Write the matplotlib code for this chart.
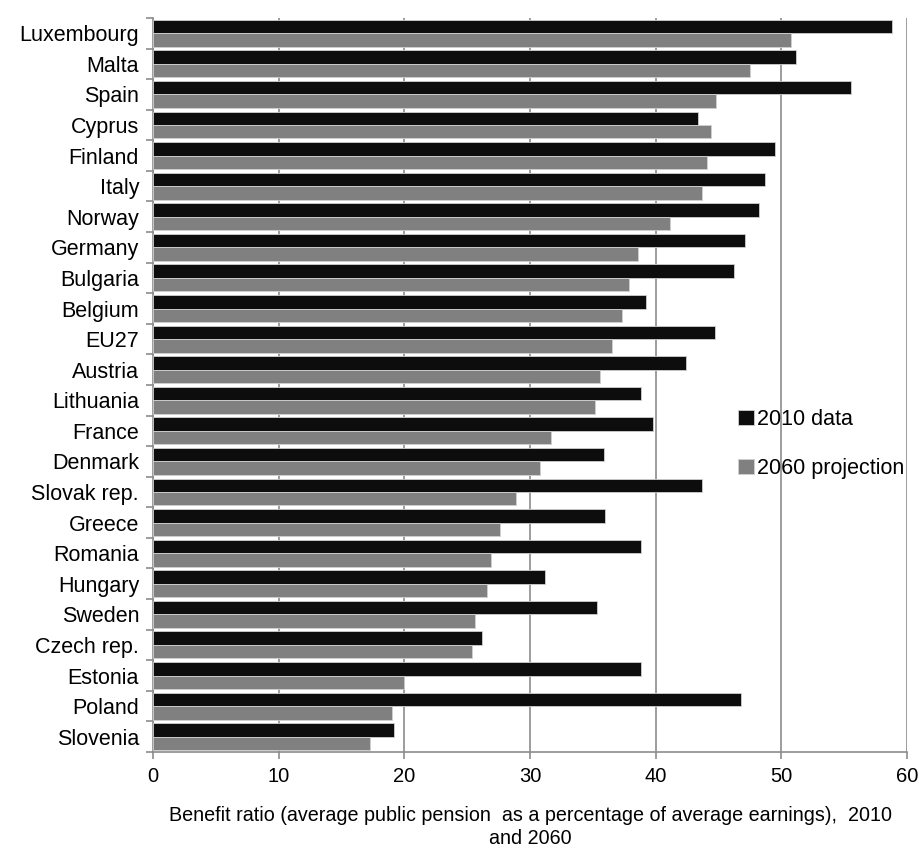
import matplotlib
matplotlib.use("Agg")
import matplotlib.pyplot as plt
import numpy as np

countries = ["Luxembourg", "Malta", "Spain", "Cyprus", "Finland", "Italy", "Norway",
             "Germany", "Bulgaria", "Belgium", "EU27", "Austria", "Lithuania", "France",
             "Denmark", "Slovak rep.", "Greece", "Romania", "Hungary", "Sweden",
             "Czech rep.", "Estonia", "Poland", "Slovenia"]
data_2010 = [58.8, 51.2, 55.5, 43.4, 49.5, 48.7, 48.2, 47.1, 46.2, 39.2, 44.7, 42.4,
             38.8, 39.8, 35.9, 43.7, 36.0, 38.8, 31.2, 35.3, 26.2, 38.8, 46.8, 19.2]
proj_2060 = [50.8, 47.5, 44.8, 44.4, 44.1, 43.7, 41.1, 38.6, 37.9, 37.3, 36.5, 35.6,
             35.2, 31.7, 30.8, 28.9, 27.6, 26.9, 26.6, 25.6, 25.4, 20.0, 19.0, 17.3]
x_ticks = [0, 10, 20, 30, 40, 50, 60]

plt.rcParams["font.family"] = ["Liberation Sans", "DejaVu Sans"]

fig = plt.figure(figsize=(9.19, 8.49), dpi=100)
ax = fig.add_axes([0.1665, 0.1143, 0.8205, 0.8645])

n = len(countries)
y = np.arange(n)
h = 0.44
ax.barh(y - h / 2, data_2010, height=h, color="#0d0d0d", edgecolor="#d0d0d0",
        linewidth=0.6, label="2010 data", zorder=3)
ax.barh(y + h / 2, proj_2060, height=h, color="#808080", edgecolor="#d0d0d0",
        linewidth=0.6, label="2060 projection", zorder=3)

ax.set_ylim(n - 0.5, -0.5)
ax.set_xlim(0, 60)

ax.set_yticks(y)
ax.set_yticklabels(countries, fontsize=15.5)
ax.set_yticks(np.arange(-0.5, n, 1.0), minor=True)
ax.tick_params(axis="y", which="major", length=0, pad=10)
ax.tick_params(axis="y", which="minor", length=5, width=1.2, color="#8c8c8c")

ax.set_xticks(x_ticks)
ax.set_xticklabels([str(v) for v in x_ticks], fontsize=14.5)
ax.tick_params(axis="x", which="major", length=5, width=1.2, color="#8c8c8c", pad=6)

for spine in ["top", "right"]:
    ax.spines[spine].set_visible(False)
for spine in ["left", "bottom"]:
    ax.spines[spine].set_color("#8c8c8c")
    ax.spines[spine].set_linewidth(1.2)

ax.grid(axis="x", color="#8c8c8c", linewidth=1.2, zorder=0)
ax.set_axisbelow(True)

ax.set_xlabel("Benefit ratio (average public pension  as a percentage of average earnings),  2010\nand 2060",
              fontsize=14.2, labelpad=14, linespacing=1.3)

ax.legend(loc="center left", bbox_to_anchor=(0.765, 0.42), frameon=False,
          fontsize=15.5, handlelength=0.7, handleheight=0.7, handletextpad=0.15,
          labelspacing=1.3, borderaxespad=0)

fig.savefig("out.png", dpi=100)
